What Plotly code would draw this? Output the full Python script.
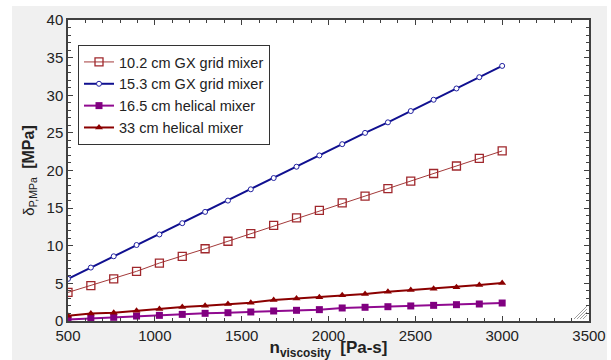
import numpy as np
import plotly.graph_objects as go

viscosity = [500, 631.6, 763.2, 894.7, 1026.3, 1157.9, 1289.5, 1421.1, 1552.6, 1684.2,
             1815.8, 1947.4, 2078.9, 2210.5, 2342.1, 2473.7, 2605.3, 2736.8, 2868.4, 3000]
gx_10_2 = [3.8, 4.7, 5.6, 6.6, 7.7, 8.6, 9.6, 10.6, 11.6, 12.7,
           13.7, 14.7, 15.7, 16.6, 17.6, 18.6, 19.6, 20.6, 21.6, 22.6]
gx_15_3 = [5.6, 7.1, 8.6, 10.1, 11.5, 13.0, 14.5, 16.0, 17.5, 19.0,
           20.5, 22.0, 23.5, 25.0, 26.4, 27.9, 29.4, 30.9, 32.4, 33.9]
hel_16_5 = [0.2, 0.35, 0.49, 0.66, 0.75, 0.88, 1.02, 1.1, 1.2, 1.33,
            1.42, 1.51, 1.73, 1.82, 1.9, 2.0, 2.08, 2.17, 2.26, 2.39]
hel_33 = [0.7, 1.0, 1.1, 1.37, 1.6, 1.86, 2.03, 2.26, 2.43, 2.79,
          3.0, 3.15, 3.41, 3.59, 3.9, 4.12, 4.3, 4.48, 4.78, 5.05]

names = ["10.2 cm GX grid mixer", "15.3 cm GX grid mixer",
         "16.5 cm helical mixer", "33 cm helical mixer"]

fig = go.Figure()
fig.add_trace(go.Scatter(x=viscosity, y=gx_10_2, name=names[0], mode="lines+markers",
                         line=dict(color="#a33a3a", width=1),
                         marker=dict(symbol="square-open", size=8, color="#a0282d",
                                     line=dict(width=1.3, color="#a0282d"))))
fig.add_trace(go.Scatter(x=viscosity, y=gx_15_3, name=names[1], mode="lines+markers",
                         line=dict(color="#101090", width=2),
                         marker=dict(symbol="circle", size=5, color="white",
                                     line=dict(width=1, color="#2020a0"))))
fig.add_trace(go.Scatter(x=viscosity, y=hel_16_5, name=names[2], mode="lines+markers",
                         line=dict(color="#900a90", width=2),
                         marker=dict(symbol="square", size=7, color="#800080")))
fig.add_trace(go.Scatter(x=viscosity, y=hel_33, name=names[3], mode="lines+markers",
                         line=dict(color="#8b0000", width=2),
                         marker=dict(symbol="triangle-up", size=7, color="#8b0000")))

W, H = 611, 360
l, r, t, b = 68, 22, 20, 39
pw, ph = W - l - r, H - t - b

def px2x(px):
    return (px - l) / pw

def py2y(py):
    return (H - b - py) / ph

shapes = [
    dict(type="rect", xref="paper", yref="paper", layer="below",
         x0=px2x(12), x1=px2x(607), y0=py2y(6), y1=py2y(362),
         fillcolor="#f0f0f0", line=dict(width=0)),
    dict(type="rect", xref="paper", yref="paper", layer="below",
         x0=0, x1=1, y0=0, y1=1, fillcolor="white", line=dict(width=0)),
]
# resize grip decoration
for k in range(4):
    shapes.append(dict(type="line", xref="paper", yref="paper",
                       x0=px2x(586 - 3 * k - 3), y0=py2y(319),
                       x1=px2x(587), y1=py2y(318 - 3 * k - 3),
                       line=dict(color="#a0a0a0", width=1)))

axis_common = dict(showline=True, linecolor="#404040", linewidth=1.5, mirror="ticks",
                   ticks="inside", ticklen=5, tickcolor="#404040", tickwidth=1,
                   showgrid=False, zeroline=False, automargin=False,
                   tickfont=dict(family="Liberation Sans, Arial", size=15, color="#222"))

fig.update_layout(
    width=W, height=H,
    margin=dict(l=l, r=r, t=t, b=b),
    paper_bgcolor="white", plot_bgcolor="white",
    shapes=shapes,
    showlegend=True,
    legend=dict(x=px2x(78), y=py2y(45), xanchor="left", yanchor="top",
                bgcolor="white", bordercolor="#333", borderwidth=1,
                font=dict(family="Liberation Sans, Arial", size=14.5, color="#222"),
                tracegroupgap=0, itemwidth=30),
    xaxis=dict(range=[500, 3500], dtick=500,
               minor=dict(dtick=100, ticks="inside", ticklen=3, tickcolor="#404040"),
               title=dict(text="<b>n<sub>viscosity</sub>  <span style='font-size:17px'>[Pa-s]</span></b>",
                          font=dict(family="Liberation Sans, Arial", size=17, color="#222"),
                          standoff=4),
               **axis_common),
    yaxis=dict(range=[0, 40], dtick=5,
               minor=dict(dtick=1, ticks="inside", ticklen=3, tickcolor="#404040"),
               title=dict(text="δ<sub>P,MPa</sub>  <b><span style='font-size:16px'>[MPa]</span></b>",
                          font=dict(family="Liberation Sans, Arial", size=15, color="#222"),
                          standoff=8),
               **axis_common),
)

fig.write_html("out.html", config={"displayModeBar": False},
               post_script="document.body.style.margin='0';document.body.style.overflow='hidden';")
